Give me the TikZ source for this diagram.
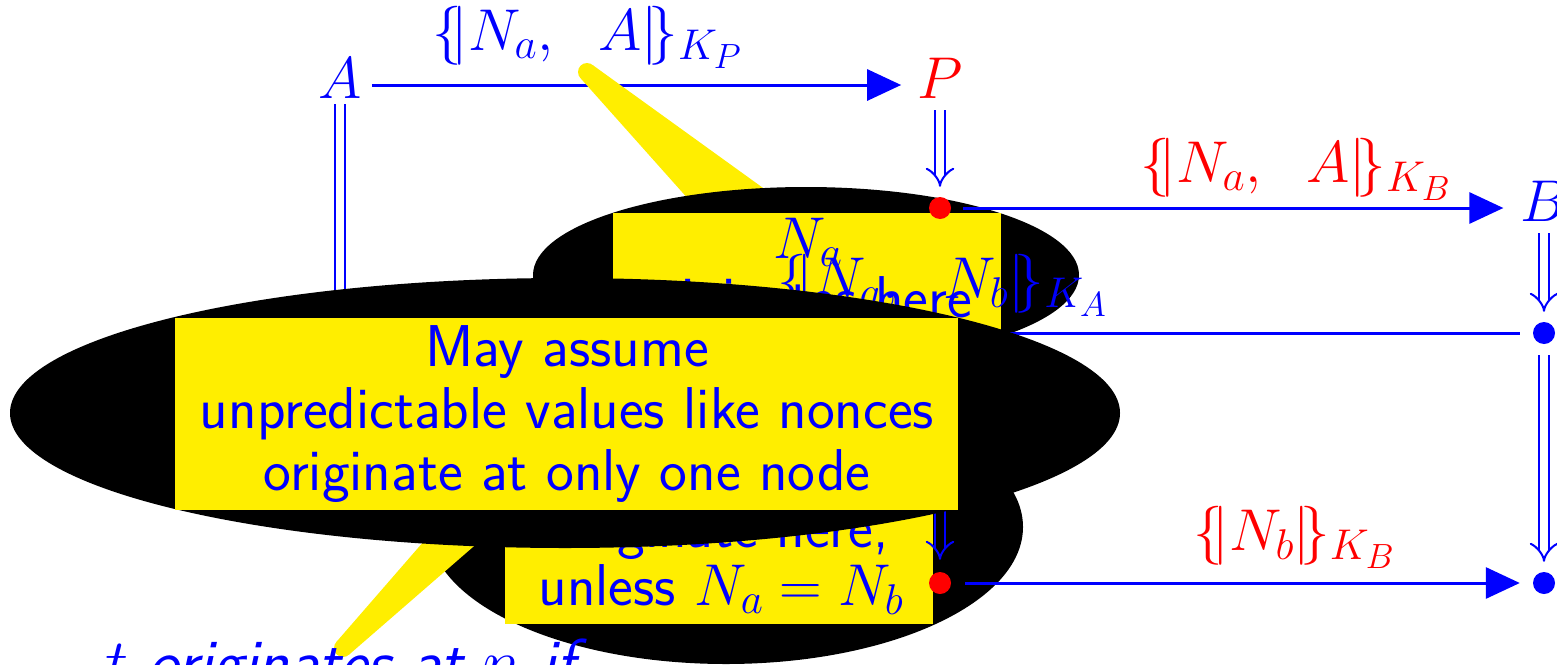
\RequirePackage{fix-cm}
\documentclass[tikz,border=0pt]{standalone}
\usepackage{fontspec}
\usetikzlibrary{arrows.meta,calc}
\DeclareMathSizes{59}{59}{43}{35}
\DeclareMathSizes{65}{65}{47}{38}
\definecolor{cyel}{RGB}{255,238,0}
\tikzset{
  lbl/.style={inner sep=0pt, font=\fontsize{59}{66}\selectfont},
  pnode/.style={lbl, text height=38pt, text depth=12pt},
  sans/.style={inner sep=0pt, anchor=base, text=blue, font=\fontsize{59}{66}\selectfont\sffamily},
  dotnode/.style={circle, inner sep=0pt, minimum size=22pt},
  msg/.style={blue, line width=3pt, -{Triangle[length=34pt,width=31pt]}},
  strand/.style={blue, line width=2pt, double, double distance=8pt, -Implies},
  blob/.style={fill=black},
  panel/.style={fill=cyel},
}
\newcommand{\pointer}[4]{% tip, base, tip half width, base half width
  \fill[cyel] ($(#1)!#3!90:(#2)$) -- ($(#2)!#4!-90:(#1)$) -- ($(#2)!#4!90:(#1)$) -- ($(#1)!#3!-90:(#2)$) -- cycle;
  \fill[cyel] (#1) circle[radius=#3];
}
\begin{document}
\begin{tikzpicture}[x=1pt,y=-1pt]
\useasboundingbox (0,0) rectangle (1557,664);

% first message (under the first pointer)
\node[pnode, text=blue] (A) at (340,85) {$A$};
\node[pnode, text=red] (P) at (940,85) {$P$};
\draw[msg, shorten <=10pt, shorten >=16pt] (A) -- (P);
\node[lbl, text=blue, anchor=base west] (lKP) at (432,50) {$\{\!|N_a,\ \ A|\!\}_{K_P}$};

% callout 1
\coordinate (t1) at (587,72);
\coordinate (b1) at (750,219);
\pointer{t1}{b1}{9pt}{33pt}
\fill[blob] (806,275) ellipse[x radius=273pt, y radius=88pt];
\fill[panel] (613,213) rectangle (1001,337);
\node[sans] (c1a) at (808,258) {$N_a$};
\node[sans, anchor=base east] (c1b) at (972,317) {originates here};

% callout 3
\fill[blob] (726,527) ellipse[x radius=297pt, y radius=137pt];
\fill[panel] (505,430) rectangle (933,624);
\node[sans, anchor=base east] (c3a) at (889,547) {originate here,};
\node[sans] (c3b) at (721,605) {unless $N_a = N_b$};

% strand diagram
\node[dotnode, fill=red] (d1) at (940,208) {};
\node[pnode, text=blue] (B) at (1544,208) {$B$};
\node[dotnode, fill=blue] (d2) at (1544,333) {};
\node[dotnode, fill=blue] (d3) at (1544,583) {};
\node[dotnode, fill=red] (d4) at (940,583) {};
\coordinate (a2) at (340,333);
\coordinate (p3) at (940,457);

\draw[strand, shorten <=-6pt] (A) -- (a2);
\draw[strand, shorten >=10pt] (P) -- (d1);
\draw[strand, shorten >=10pt] (B) -- (d2);
\draw[strand, shorten <=11pt, shorten >=10pt] (d2) -- (d3);
\draw[strand, double=black, shorten >=12pt] (p3) -- (d4);

\draw[msg, shorten <=12pt, shorten >=17pt] (d1) -- (B);
\node[lbl, text=red, anchor=base west] (lKB) at (1140,182) {$\{\!|N_a,\ \ A|\!\}_{K_B}$};
\draw[msg, shorten <=13pt] (d2) -- (a2);
\node[lbl, text=blue, anchor=base west] (lKA) at (777,298) {$\{\!|N_a,\ \ N_b|\!\}_{K_A}$};
\draw[msg, shorten <=14pt, shorten >=13pt] (d4) -- (d3);
\node[lbl, text=red, anchor=base west] (lNb) at (1193,550) {$\{\!|N_b|\!\}_{K_B}$};

% callout 2
\coordinate (t2) at (343,648);
\coordinate (b2) at (484,507);
\pointer{t2}{b2}{9pt}{23pt}
\fill[blob] (565,413) ellipse[x radius=555pt, y radius=135pt];
\fill[panel] (175,318) rectangle (958,510);
\node[sans] (c2a) at (567,366) {May assume};
\node[sans] (c2b) at (567,428) {unpredictable values like nonces};
\node[sans] (c2c) at (567,490) {originate at only one node};

% text below
\node[inner sep=0pt, anchor=base west, text=blue, font=\fontsize{65}{72}\selectfont\sffamily\slshape] (foot) at (105,684) {$t$ originates at $n$ if};
\end{tikzpicture}
\end{document}
